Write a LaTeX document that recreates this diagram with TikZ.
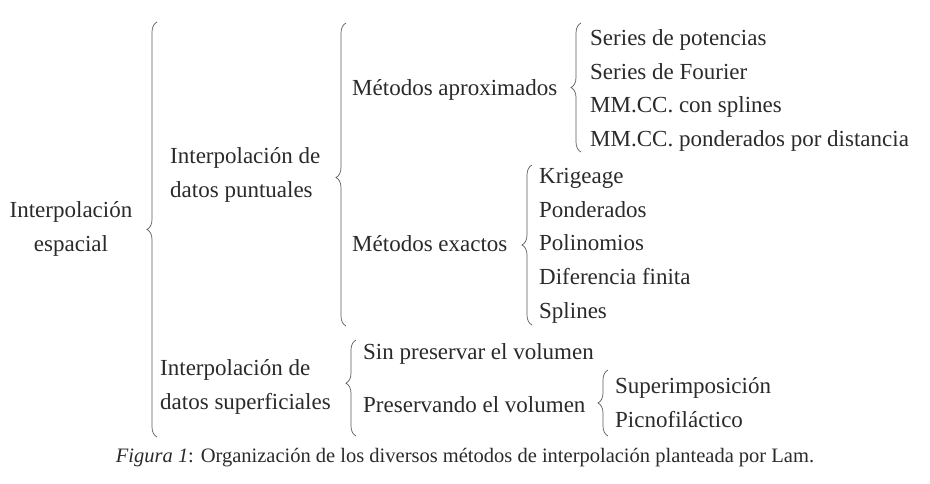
\documentclass[tikz,border=0pt]{standalone}
\usepackage{fontspec}
\setmainfont{Liberation Serif}
\usetikzlibrary{decorations.pathreplacing}
\definecolor{txtgray}{HTML}{2A2A2A}
\definecolor{bracegray}{HTML}{5A5A5A}
\tikzset{
  lbl/.style={inner sep=0pt,text=txtgray,font=\fontsize{23}{33.5}\selectfont,anchor=base west},
  two/.style={lbl,anchor=west,align=left},
  curly/.style={draw=bracegray,line width=0.7pt,decorate,
    decoration={brace,amplitude=10pt,aspect=#1}},
  curly/.default=0.5
}
\begin{document}
\begin{tikzpicture}[x=1pt,y=-1pt]
  \useasboundingbox (0,0) rectangle (930,483);
  % labels of the tree
  \node[two,align=center,anchor=center] (root) at (71,229) {Interpolación\\espacial};
  \node[two] (pun) at (170,175) {Interpolación de\\datos puntuales};
  \node[two] (sup) at (160,387) {Interpolación de\\datos superficiales};
  \node[lbl] (apr) at (352,95) {Métodos aproximados};
  \node[lbl] (exa) at (352,251) {Métodos exactos};
  \node[lbl] (a1) at (590,45) {Series de potencias};
  \node[lbl] (a2) at (590,79) {Series de Fourier};
  \node[lbl] (a3) at (590,112) {MM.CC. con splines};
  \node[lbl] (a4) at (590,146) {MM.CC. ponderados por distancia};
  \node[lbl] (e1) at (539,183) {Krigeage};
  \node[lbl] (e2) at (539,217) {Ponderados};
  \node[lbl] (e3) at (539,250) {Polinomios};
  \node[lbl] (e4) at (539,284) {Diferencia finita};
  \node[lbl] (e5) at (539,318) {Splines};
  \node[lbl] (s1) at (363,359) {Sin preservar el volumen};
  \node[lbl] (s2) at (363,412) {Preservando el volumen};
  \node[lbl] (v1) at (615,393) {Superimposición};
  \node[lbl] (v2) at (615,427) {Picnofiláctico};
  % braces
  \draw[curly] (157,437) -- (157,22);
  \draw[curly=0.49] (346,326) -- (346,23);
  \draw[curly] (581,152) -- (581,23);
  \draw[curly=0.5] (532,325) -- (532,165);
  \draw[curly=0.55] (356,436) -- (356,340);
  \draw[curly] (608,436) -- (608,370);
  % caption
  \node[inner sep=0pt,text=txtgray,font=\fontsize{20.5}{24}\selectfont] (cap) at (465,458)
    {\textit{Figura 1}: Organización de los diversos métodos de interpolación planteada por Lam.};
\end{tikzpicture}
\end{document}
